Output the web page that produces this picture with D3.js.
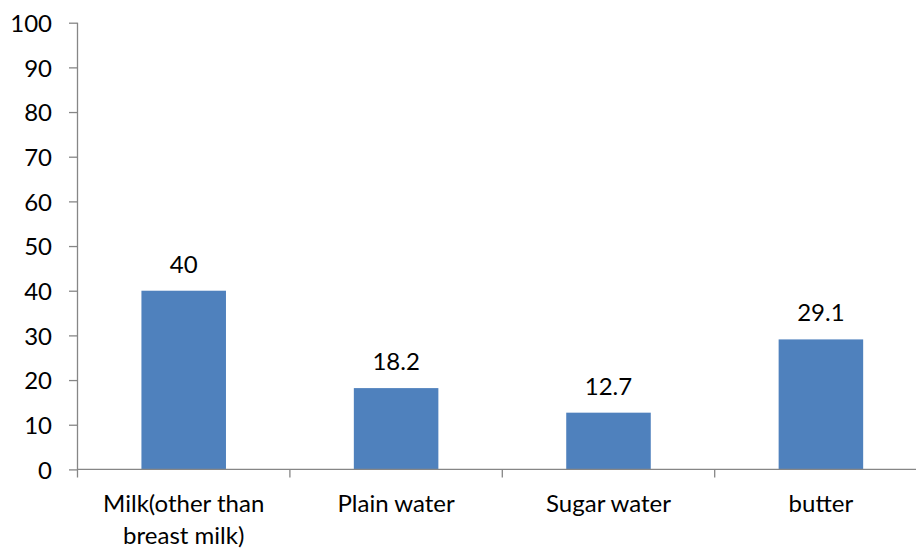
<!DOCTYPE html>
<html>
<head>
<meta charset="utf-8">
<script src="https://cdn.jsdelivr.net/npm/d3@7"></script>
<style>
  html, body { margin: 0; padding: 0; background: #fff; }
  svg { display: block; }
  text { font-family: Lato, "Open Sans", sans-serif; fill: #000; }
</style>
</head>
<body>
<svg id="chart" width="916" height="548"></svg>
<script>
const categories = [["Milk(other than", "breast milk)"], ["Plain water"], ["Sugar water"], ["butter"]];
const values = [40, 18.2, 12.7, 29.1];
const valueLabels = ["40", "18.2", "12.7", "29.1"];
const yTicks = [0, 10, 20, 30, 40, 50, 60, 70, 80, 90, 100];

const W = 916, H = 548;
const margin = { left: 77.5, top: 22.7 };
const plotW = 849.6, plotH = 446.7;
const fontSize = 24;

const svg = d3.select("#chart");
const g = svg.append("g").attr("transform", `translate(${margin.left},${margin.top})`);

const keys = categories.map((c, i) => i);
const xCat = d3.scaleBand().domain(keys).range([0, plotW]).padding(0);
const xBar = d3.scaleBand().domain(keys).range([0, plotW]).paddingInner(0.602).paddingOuter(0.301);
const y = d3.scaleLinear().domain([0, 100]).range([plotH, 0]);

const axisColor = "#868686";

// Bars
g.selectAll("rect.bar").data(values).enter().append("rect")
  .attr("class", "bar")
  .attr("x", (d, i) => xBar(i))
  .attr("width", xBar.bandwidth())
  .attr("y", d => y(d))
  .attr("height", d => y(0) - y(d))
  .attr("fill", "#4F81BD");

// Y axis
const yAxis = d3.axisLeft(y).tickValues(yTicks).tickSize(8.5).tickPadding(17).tickFormat(d3.format("d"));
const yg = g.append("g").call(yAxis);
yg.select(".domain").remove();
yg.selectAll(".tick line").attr("stroke", axisColor).attr("stroke-width", 1.3);
yg.selectAll(".tick text").style("font-size", fontSize + "px").attr("dy", "0.36em").attr("fill", "#000");
g.append("line").attr("x1", 0).attr("x2", 0).attr("y1", 0).attr("y2", plotH + 8)
  .attr("stroke", axisColor).attr("stroke-width", 1.3);

// X axis line
g.append("line").attr("x1", 0).attr("x2", plotW).attr("y1", plotH).attr("y2", plotH)
  .attr("stroke", axisColor).attr("stroke-width", 1.3);
// X boundary ticks
g.selectAll("line.xtick").data(keys.slice(1).concat([keys.length])).enter().append("line")
  .attr("class", "xtick")
  .attr("x1", d => d * xCat.step()).attr("x2", d => d * xCat.step())
  .attr("y1", plotH).attr("y2", plotH + 8)
  .attr("stroke", axisColor).attr("stroke-width", 1.3);

// Category labels
const cl = g.selectAll("text.cat").data(categories).enter().append("text")
  .attr("class", "cat")
  .attr("text-anchor", "middle")
  .style("font-size", fontSize + "px")
  .attr("transform", (d, i) => `translate(${xCat(i) + xCat.bandwidth() / 2},${plotH + 43})`);
cl.selectAll("tspan").data(d => d).enter().append("tspan")
  .attr("x", 0).attr("y", (d, j) => j * 32).text(d => d);

// Value labels
g.selectAll("text.val").data(values).enter().append("text")
  .attr("class", "val")
  .attr("text-anchor", "middle")
  .style("font-size", fontSize + "px")
  .attr("x", (d, i) => xBar(i) + xBar.bandwidth() / 2)
  .attr("y", d => y(d) - 18)
  .text((d, i) => valueLabels[i]);
</script>
</body>
</html>
